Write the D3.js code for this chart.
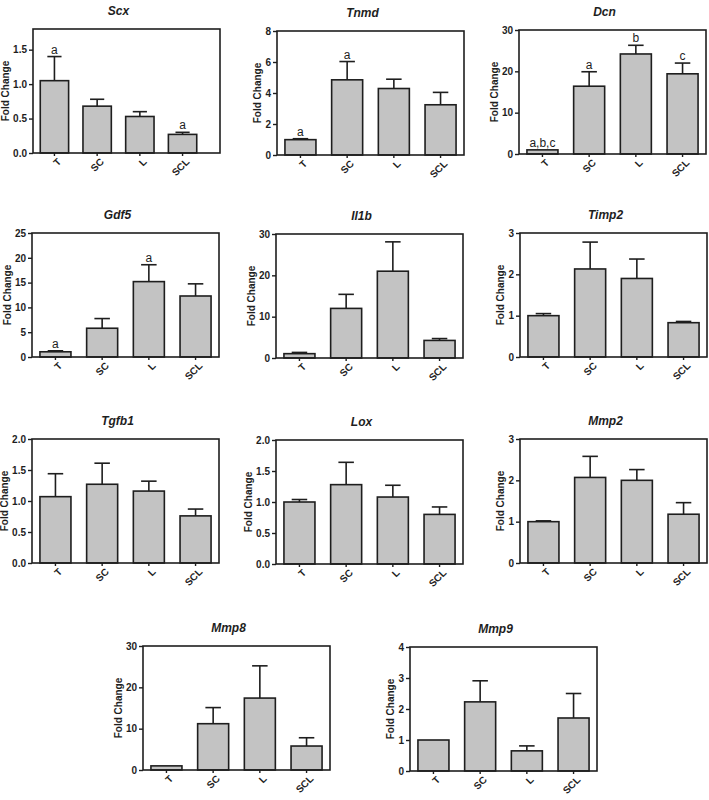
<!DOCTYPE html>
<html>
<head>
<meta charset="utf-8">
<script src="https://cdn.jsdelivr.net/npm/d3@7"></script>
<style>
  html, body { margin: 0; padding: 0; background: #fff; }
  svg { display: block; font-family: "Liberation Sans", Arial, sans-serif; }
</style>
</head>
<body>
<svg id="chart" width="709" height="800"></svg>
<script>
// ---------- DATA ----------
const categories = ["T", "SC", "L", "SCL"];
const genes = ["Scx", "Tnmd", "Dcn", "Gdf5", "Il1b", "Timp2", "Tgfb1", "Lox", "Mmp2", "Mmp8", "Mmp9"];

// mean fold change per group
const scxMean   = [1.05, 0.68, 0.53, 0.27];
const tnmdMean  = [0.99, 4.85, 4.29, 3.24];
const dcnMean   = [1.0, 16.4, 24.2, 19.4];
const gdf5Mean  = [1.05, 5.8, 15.2, 12.3];
const il1bMean  = [1.05, 12.0, 21.0, 4.25];
const timp2Mean = [1.0, 2.13, 1.9, 0.83];
const tgfb1Mean = [1.07, 1.27, 1.16, 0.76];
const loxMean   = [1.0, 1.28, 1.08, 0.8];
const mmp2Mean  = [1.0, 2.07, 2.0, 1.18];
const mmp8Mean  = [1.0, 11.2, 17.4, 5.8];
const mmp9Mean  = [1.0, 2.23, 0.65, 1.71];

// upper error (SEM) per group
const scxErr   = [0.35, 0.10, 0.07, 0.03];
const tnmdErr  = [0.06, 1.18, 0.60, 0.80];
const dcnErr   = [0, 3.5, 2.1, 2.6];
const gdf5Err  = [0.2, 1.95, 3.4, 2.45];
const il1bErr  = [0.3, 3.4, 7.1, 0.45];
const timp2Err = [0.05, 0.65, 0.47, 0.03];
const tgfb1Err = [0.37, 0.34, 0.16, 0.11];
const loxErr   = [0.04, 0.36, 0.19, 0.12];
const mmp2Err  = [0.02, 0.51, 0.26, 0.28];
const mmp8Err  = [0, 3.9, 7.8, 2.0];
const mmp9Err  = [0, 0.68, 0.16, 0.79];

// significance letters
const scxLetters  = ["a", "", "", "a"];
const tnmdLetters = ["a", "a", "", ""];
const dcnLetters  = ["a,b,c", "a", "b", "c"];
const gdf5Letters = ["a", "", "a", ""];
const noLetters   = ["", "", "", ""];

// y-axis maxima and tick labels
const yMaxes = [1.8, 8, 30, 25, 30, 3, 2, 2, 3, 30, 4];
const yTickSets = [
  [0, 0.5, 1.0, 1.5],
  [0, 2, 4, 6, 8],
  [0, 10, 20, 30],
  [0, 5, 10, 15, 20, 25],
  [0, 10, 20, 30],
  [0, 1, 2, 3],
  [0, 0.5, 1.0, 1.5, 2.0],
  [0, 0.5, 1.0, 1.5, 2.0],
  [0, 1, 2, 3],
  [0, 10, 20, 30],
  [0, 1, 2, 3, 4]
];
const yTickFormats = [".1f", "d", "d", "d", "d", "d", ".1f", ".1f", "d", "d", "d"];
const yLabel = "Fold Change";

const meanSets = [scxMean, tnmdMean, dcnMean, gdf5Mean, il1bMean, timp2Mean, tgfb1Mean, loxMean, mmp2Mean, mmp8Mean, mmp9Mean];
const errSets = [scxErr, tnmdErr, dcnErr, gdf5Err, il1bErr, timp2Err, tgfb1Err, loxErr, mmp2Err, mmp8Err, mmp9Err];
const letterSets = [scxLetters, tnmdLetters, dcnLetters, gdf5Letters, noLetters, noLetters, noLetters, noLetters, noLetters, noLetters, noLetters];

// ---------- LAYOUT (positions of each panel frame) ----------
const frameOrigins = [
  [33, 29], [277, 31], [519, 30],
  [32, 233], [276, 234], [520, 233],
  [32, 439], [276, 440], [520, 439],
  [143, 646], [410, 647]
];
const frameW = 187, frameH = 124;
const barInsets = [16, 0, 0, 0, 0, 0, 0, 0, 0, 0, 0];

const svg = d3.select("#chart");
const ink = "#1e1e1e";
const barFill = "#c3c3c3";

genes.forEach((gene, i) => {
  const rows = categories.map((c, j) => ({
    cat: c, mean: meanSets[i][j], err: errSets[i][j], letter: letterSets[i][j]
  }));
  const [ox, oy] = frameOrigins[i];
  const g = svg.append("g").attr("transform", `translate(${ox},${oy})`);

  const x = d3.scaleBand().domain(categories)
    .range([0, frameW - barInsets[i]])
    .paddingInner(0.336).paddingOuter(0.17);
  const y = d3.scaleLinear().domain([0, yMaxes[i]]).range([frameH, 0]);
  const bw = x.bandwidth();

  // bars
  g.selectAll("rect.bar").data(rows).join("rect")
    .attr("class", "bar")
    .attr("x", d => x(d.cat))
    .attr("y", d => y(d.mean))
    .attr("width", bw)
    .attr("height", d => y(0) - y(d.mean))
    .attr("fill", barFill)
    .attr("stroke", ink)
    .attr("stroke-width", 1.6);

  // error bars (upper only)
  const eb = rows.filter(d => d.err > 0);
  g.selectAll("line.ev").data(eb).join("line")
    .attr("class", "ev")
    .attr("x1", d => x(d.cat) + bw / 2).attr("x2", d => x(d.cat) + bw / 2)
    .attr("y1", d => y(d.mean)).attr("y2", d => y(d.mean + d.err))
    .attr("stroke", ink).attr("stroke-width", 1.6);
  g.selectAll("line.ec").data(eb).join("line")
    .attr("class", "ec")
    .attr("x1", d => x(d.cat) + bw / 4).attr("x2", d => x(d.cat) + 3 * bw / 4)
    .attr("y1", d => y(d.mean + d.err)).attr("y2", d => y(d.mean + d.err))
    .attr("stroke", ink).attr("stroke-width", 1.6);

  // letters
  g.selectAll("text.letter").data(rows.filter(d => d.letter)).join("text")
    .attr("class", "letter")
    .attr("x", d => x(d.cat) + bw / 2)
    .attr("y", d => y(d.mean + d.err) - 3)
    .attr("text-anchor", "middle")
    .attr("font-size", 12)
    .attr("fill", ink)
    .text(d => d.letter);

  // y axis
  const yAx = g.append("g")
    .call(d3.axisLeft(y).tickValues(yTickSets[i]).tickFormat(d3.format(yTickFormats[i])).tickSize(4).tickPadding(2));
  yAx.select(".domain").remove();
  yAx.selectAll("line").attr("stroke", ink).attr("stroke-width", 1.4);
  yAx.selectAll("text").attr("font-size", 10).attr("font-weight", "bold").attr("fill", ink)
    .attr("font-family", "'Liberation Sans', Arial, sans-serif");

  // x axis
  const xAx = g.append("g").attr("transform", `translate(0,${frameH})`)
    .call(d3.axisBottom(x).tickSize(3).tickPadding(0));
  xAx.select(".domain").remove();
  xAx.selectAll("line").attr("stroke", ink).attr("stroke-width", 1.4);
  xAx.selectAll("text")
    .attr("x", 0).attr("y", 0).attr("dy", "0.35em")
    .attr("transform", "translate(5,7) rotate(-45)")
    .attr("text-anchor", "end")
    .attr("font-size", 10).attr("font-weight", "bold").attr("fill", ink)
    .attr("font-family", "'Liberation Sans', Arial, sans-serif");

  // frame
  g.append("rect").attr("x", 0).attr("y", 0).attr("width", frameW).attr("height", frameH)
    .attr("fill", "none").attr("stroke", ink).attr("stroke-width", 1.6);

  // y label
  let tw = 0;
  yAx.selectAll("text").each(function () { tw = Math.max(tw, this.getComputedTextLength()); });
  const lx = -6 - tw - 4;
  g.append("text")
    .attr("transform", `translate(${lx},${frameH / 2}) rotate(-90)`)
    .attr("text-anchor", "middle")
    .attr("font-size", 10).attr("font-weight", "bold").attr("fill", ink)
    .text(yLabel);

  // title
  g.append("text")
    .attr("x", frameW / 2 - 8).attr("y", -14)
    .attr("text-anchor", "middle")
    .attr("font-size", 12).attr("font-weight", "bold").attr("font-style", "italic").attr("fill", ink)
    .text(gene);
});
</script>
</body>
</html>
